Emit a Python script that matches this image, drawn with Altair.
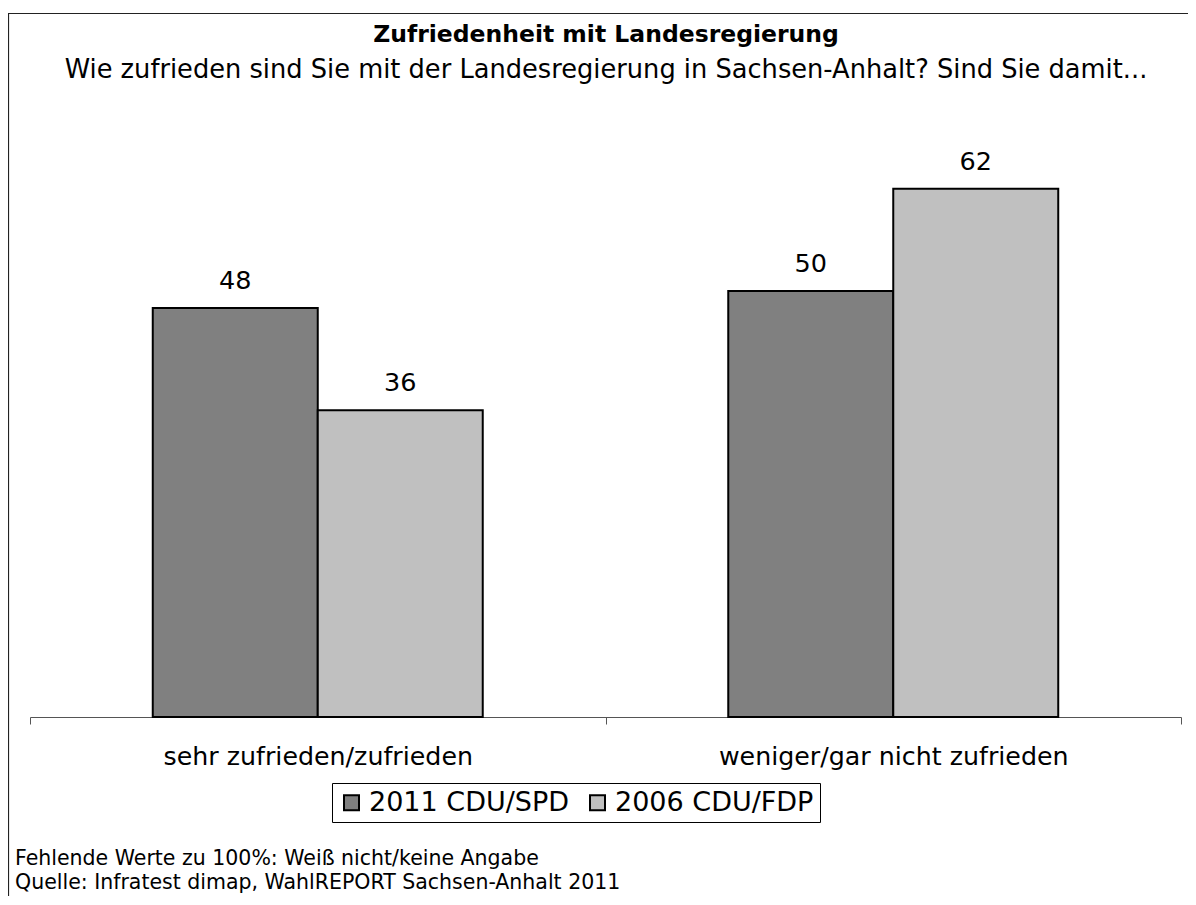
import altair as alt
import pandas as pd

TITLE = "Zufriedenheit mit Landesregierung"
SUBTITLE = "Wie zufrieden sind Sie mit der Landesregierung in Sachsen-Anhalt? Sind Sie damit..."
CATEGORIES = ["sehr zufrieden/zufrieden", "weniger/gar nicht zufrieden"]
SERIES = ["2011 CDU/SPD", "2006 CDU/FDP"]
VALUES_2011 = [48, 50]
VALUES_2006 = [36, 62]
COLORS = ["#808080", "#C0C0C0"]
NOTES = [
    "Fehlende Werte zu 100%: Weiß nicht/keine Angabe",
    "Quelle: Infratest dimap, WahlREPORT Sachsen-Anhalt 2011",
]

rows = []
for i, c in enumerate(CATEGORIES):
    rows.append({"Kategorie": c, "Serie": SERIES[0], "Wert": VALUES_2011[i]})
    rows.append({"Kategorie": c, "Serie": SERIES[1], "Wert": VALUES_2006[i]})
df = pd.DataFrame(rows)

W, H = 1180, 883
BASE_Y = 704
FONT = "DejaVu Sans"

x = alt.X(
    "Kategorie:N",
    sort=CATEGORIES,
    scale=alt.Scale(range=[22, 1173], paddingInner=0, paddingOuter=0),
    axis=alt.Axis(
        title=None,
        offset=BASE_Y - H,
        domainColor="#555555",
        tickColor="#555555",
        tickSize=7,
        tickBand="extent",
        labelFont=FONT,
        labelFontSize=25.3,
        labelColor="black",
        labelPadding=20,
        labelAngle=0,
        labelLimit=1000,
        grid=False,
    ),
)
xo = alt.XOffset("Serie:N", sort=SERIES, scale=alt.Scale(paddingInner=0, paddingOuter=0.744))
y = alt.Y("Wert:Q", scale=alt.Scale(domain=[0, 70], range=[BASE_Y, BASE_Y - 596.4]), axis=None)
color = alt.Color(
    "Serie:N",
    sort=SERIES,
    scale=alt.Scale(domain=SERIES, range=COLORS),
    legend=alt.Legend(
        title=None,
        orient="none",
        legendX=324,
        legendY=770,
        direction="horizontal",
        strokeColor="black",
        fillColor="white",
        padding=6,
        symbolType="square",
        symbolSize=225,
        symbolStrokeColor="black",
        symbolStrokeWidth=2,
        symbolOpacity=1,
        labelFont=FONT,
        labelFontSize=27,
        labelColor="black",
        labelOffset=4,
        labelLimit=1000,
        columnPadding=14,
    ),
)

bars = alt.Chart(df).mark_bar(stroke="black", strokeWidth=2, opacity=1).encode(
    x=x, xOffset=xo, y=y, color=color
)
labels = alt.Chart(df).mark_text(
    dy=-19, baseline="alphabetic", font=FONT, fontSize=25.5, color="black"
).encode(x=x, xOffset=xo, y=y, text="Wert:Q")

one = pd.DataFrame({"t": [TITLE], "s": [SUBTITLE]})
title = alt.Chart(one).mark_text(
    font=FONT, fontSize=23.5, fontWeight="bold", align="center", baseline="alphabetic", color="black"
).encode(text="t:N", x=alt.value(598), y=alt.value(29))
subtitle = alt.Chart(one).mark_text(
    font=FONT, fontSize=25.7, align="center", baseline="alphabetic", color="black"
).encode(text="s:N", x=alt.value(598), y=alt.value(65))
notes = alt.Chart(one).mark_text(
    text=NOTES, font=FONT, fontSize=20.5, align="left", baseline="alphabetic", lineHeight=24, color="black"
).encode(x=alt.value(7), y=alt.value(852))

frame_left = alt.Chart(one).mark_rule(color="#222222", strokeWidth=1.2).encode(
    x=alt.value(0.5), y=alt.value(0), y2=alt.value(H)
)
frame_top = alt.Chart(one).mark_rule(color="#222222", strokeWidth=1.2).encode(
    x=alt.value(0), x2=alt.value(W), y=alt.value(0.5)
)

chart = (
    alt.layer(bars, labels, title, subtitle, notes, frame_left, frame_top)
    .properties(
        width=W,
        height=H,
        padding={"left": 0, "top": 5, "right": 0, "bottom": 0},
        autosize=alt.AutoSizeParams(type="none"),
        background="white",
    )
    .configure_view(strokeWidth=0)
)

chart.save("out.html", embed_options={"renderer": "svg", "actions": False})
